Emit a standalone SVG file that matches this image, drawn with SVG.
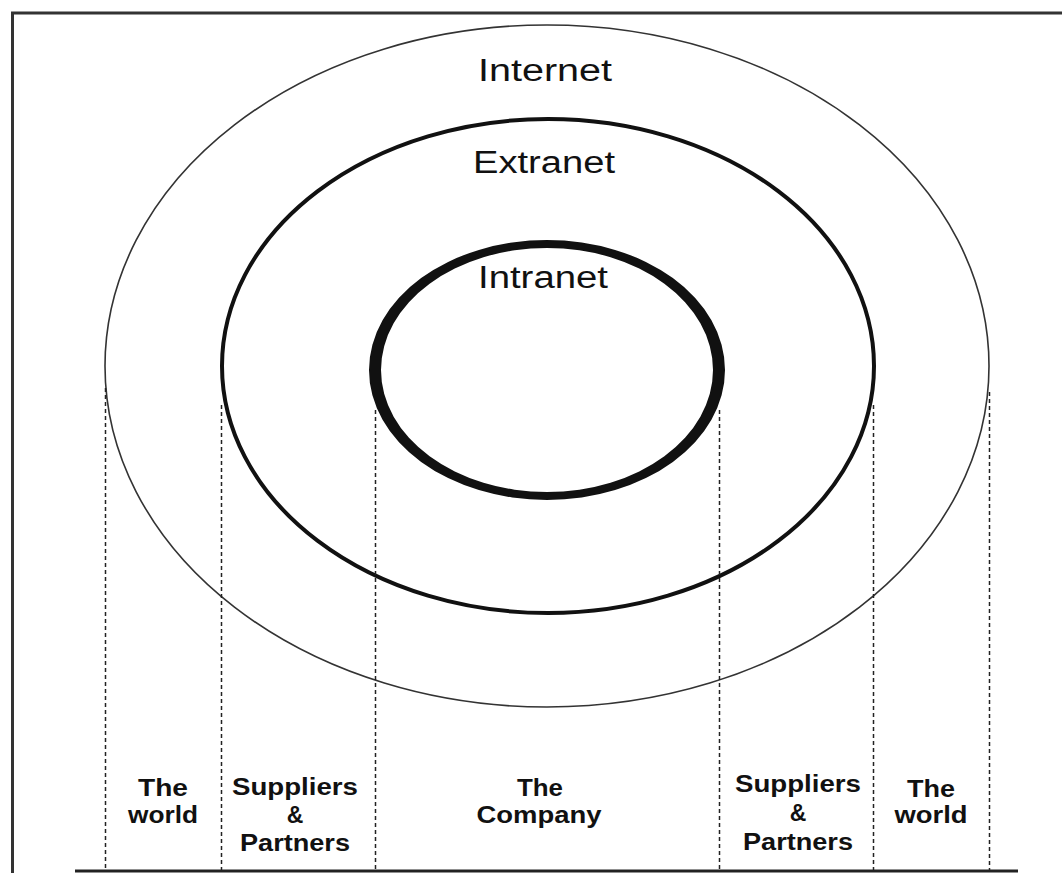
<svg xmlns="http://www.w3.org/2000/svg" width="1062" height="873" viewBox="0 0 1062 873">
<style>
.t{font-family:"Liberation Sans",Arial,sans-serif;font-size:31px;fill:#111;text-anchor:middle}
.b{font-family:"Liberation Sans",Arial,sans-serif;font-size:23px;font-weight:bold;fill:#111;text-anchor:middle}
.d{stroke:#222;stroke-width:1.5;stroke-dasharray:4 3;fill:none}
</style>
<rect width="1062" height="873" fill="#fff"/>
<g id="frame" fill="none">
<path d="M12.5 873 V13 H1062" stroke="#333" stroke-width="3"/>
<line x1="75" y1="871" x2="1018" y2="871" stroke="#222" stroke-width="3"/>
</g>
<g id="internet">
<ellipse cx="547" cy="366" rx="442" ry="341" fill="none" stroke="#333" stroke-width="1.6"/>
<text class="t" x="545" y="81" textLength="134" lengthAdjust="spacingAndGlyphs">Internet</text>
</g>
<g id="extranet">
<ellipse cx="548" cy="366" rx="326" ry="247" fill="none" stroke="#111" stroke-width="4"/>
<text class="t" x="544" y="173" textLength="142" lengthAdjust="spacingAndGlyphs">Extranet</text>
</g>
<g id="intranet">
<path fill="#111" fill-rule="evenodd" d="M369 370 A178 130 0 1 0 725 370 A178 130 0 1 0 369 370 Z M381 370 A166 122 0 1 0 713 370 A166 122 0 1 0 381 370 Z"/>
<text class="t" x="543" y="288" textLength="130" lengthAdjust="spacingAndGlyphs">Intranet</text>
</g>
<g id="connectors">
<line class="d" x1="105.5" y1="388" x2="105.5" y2="870"/>
<line class="d" x1="221.5" y1="405" x2="221.5" y2="870"/>
<line class="d" x1="375.5" y1="410" x2="375.5" y2="870"/>
<line class="d" x1="719.5" y1="410" x2="719.5" y2="870"/>
<line class="d" x1="873.5" y1="405" x2="873.5" y2="870"/>
<line class="d" x1="989.5" y1="392" x2="989.5" y2="870"/>
</g>
<g id="world-left">
<text class="b" x="163" y="796" textLength="50" lengthAdjust="spacingAndGlyphs">The</text>
<text class="b" x="163" y="823" textLength="70" lengthAdjust="spacingAndGlyphs">world</text>
</g>
<g id="suppliers-left">
<text class="b" x="295" y="795" textLength="126" lengthAdjust="spacingAndGlyphs">Suppliers</text>
<text class="b" x="295" y="823">&amp;</text>
<text class="b" x="295" y="851" textLength="110" lengthAdjust="spacingAndGlyphs">Partners</text>
</g>
<g id="company">
<text class="b" x="540" y="796" textLength="46" lengthAdjust="spacingAndGlyphs">The</text>
<text class="b" x="539" y="823" textLength="125" lengthAdjust="spacingAndGlyphs">Company</text>
</g>
<g id="suppliers-right">
<text class="b" x="798" y="792" textLength="126" lengthAdjust="spacingAndGlyphs">Suppliers</text>
<text class="b" x="798" y="821">&amp;</text>
<text class="b" x="798" y="850" textLength="110" lengthAdjust="spacingAndGlyphs">Partners</text>
</g>
<g id="world-right">
<text class="b" x="931" y="797" textLength="48" lengthAdjust="spacingAndGlyphs">The</text>
<text class="b" x="931" y="823" textLength="73" lengthAdjust="spacingAndGlyphs">world</text>
</g>
</svg>
